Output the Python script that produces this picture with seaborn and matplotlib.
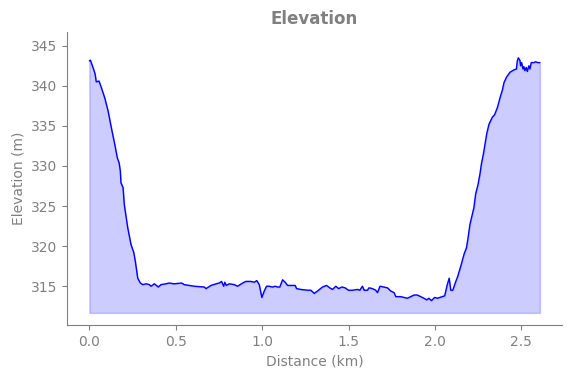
import matplotlib
matplotlib.use("Agg")
import matplotlib.pyplot as plt
import seaborn as sns
import pandas as pd

## perfil de elevação

distance_km = [
    0.000, 0.006, 0.021, 0.033, 0.040, 0.056, 0.069, 0.089, 0.108, 0.127,
    0.147, 0.162, 0.172, 0.179, 0.183, 0.195, 0.202, 0.222, 0.241, 0.257,
    0.266, 0.280, 0.295, 0.309, 0.330, 0.347, 0.357, 0.376, 0.399, 0.414,
    0.443, 0.462, 0.491, 0.534, 0.549, 0.578, 0.607, 0.665, 0.675, 0.704,
    0.733, 0.751, 0.765, 0.777, 0.784, 0.792, 0.809, 0.838, 0.858, 0.887,
    0.906, 0.935, 0.954, 0.969, 0.983, 0.992, 0.998, 1.012, 1.025, 1.040,
    1.060, 1.075, 1.089, 1.102, 1.118, 1.133, 1.147, 1.191, 1.199, 1.224,
    1.262, 1.282, 1.301, 1.320, 1.349, 1.372, 1.391, 1.407, 1.426, 1.442,
    1.461, 1.480, 1.499, 1.523, 1.551, 1.565, 1.580, 1.590, 1.599, 1.609,
    1.618, 1.638, 1.657, 1.667, 1.682, 1.705, 1.725, 1.744, 1.763, 1.773,
    1.802, 1.821, 1.840, 1.860, 1.879, 1.898, 1.917, 1.936, 1.952, 1.965,
    1.979, 1.998, 2.014, 2.043, 2.056, 2.071, 2.082, 2.091, 2.103, 2.117,
    2.131, 2.149, 2.168, 2.182, 2.191, 2.202, 2.216, 2.225, 2.235, 2.249,
    2.260, 2.268, 2.280, 2.287, 2.299, 2.312, 2.332, 2.345, 2.361, 2.376,
    2.390, 2.399, 2.414, 2.434, 2.457, 2.471, 2.476, 2.482, 2.491, 2.495,
    2.501, 2.509, 2.514, 2.520, 2.528, 2.534, 2.543, 2.549, 2.557, 2.572,
    2.582, 2.595, 2.607,
]

elevation_m = [
    343.1, 343.2, 342.3, 341.5, 340.5, 340.6, 339.8, 338.5, 336.9, 334.8,
    332.7, 331.0, 330.4, 329.4, 327.9, 327.3, 325.2, 322.3, 320.2, 319.2,
    318.1, 316.0, 315.4, 315.2, 315.3, 315.2, 315.0, 315.3, 314.9, 315.2,
    315.3, 315.4, 315.3, 315.4, 315.2, 315.1, 315.0, 314.9, 314.7, 315.1,
    315.3, 315.4, 315.6, 315.0, 315.5, 315.1, 315.3, 315.2, 315.0, 315.4,
    315.6, 315.6, 315.5, 315.7, 315.2, 314.2, 313.6, 314.4, 315.0, 315.0,
    314.9, 315.0, 314.9, 314.9, 315.8, 315.5, 315.1, 315.1, 314.7, 314.6,
    314.5, 314.5, 314.1, 314.4, 314.9, 315.1, 314.8, 314.6, 315.0, 314.7,
    314.9, 314.8, 314.5, 314.5, 314.6, 314.5, 315.0, 314.5, 314.5, 314.5,
    314.8, 314.7, 314.5, 314.2, 315.0, 314.9, 314.8, 314.4, 314.2, 313.7,
    313.7, 313.6, 313.5, 313.7, 313.9, 313.9, 313.7, 313.5, 313.3, 313.5,
    313.2, 313.6, 313.5, 313.7, 313.8, 315.2, 316.0, 314.5, 314.5, 315.4,
    316.2, 317.5, 319.0, 319.8, 321.0, 322.7, 324.0, 324.8, 326.5, 327.7,
    329.0, 330.2, 331.5, 332.4, 334.0, 335.2, 336.1, 336.4, 337.3, 338.5,
    339.5, 340.4, 341.1, 341.7, 342.0, 342.1, 343.1, 343.5, 343.2, 342.5,
    342.9, 342.1, 342.4, 341.9, 342.3, 341.8, 342.5, 342.1, 342.9, 342.9,
    343.0, 342.9, 342.9,
]

fill_base_m = 311.67

df = pd.DataFrame({"distance_km": distance_km, "elevation_m": elevation_m})

# %%

sns.set_style("ticks")
plt.rcParams["axes.edgecolor"] = "gray"
plt.rcParams["xtick.color"] = "gray"
plt.rcParams["ytick.color"] = "gray"
plt.rcParams["axes.labelcolor"] = "gray"
plt.rcParams["text.color"] = "gray"

fig, ax = plt.subplots(figsize=(5.71, 3.78), dpi=100)
fig.subplots_adjust(left=0.117, right=0.985, bottom=0.14, top=0.915)

ax.fill_between(df["distance_km"], df["elevation_m"], fill_base_m,
                color="blue", alpha=0.2)

sns.lineplot(
    data=df,
    x="distance_km",
    y="elevation_m",
    color="blue",
    linewidth=1.0,
    estimator=None,
    ax=ax
)

ax.set_ylim(310.15, 346.7)
ax.set_xticks([0.0, 0.5, 1.0, 1.5, 2.0, 2.5])

ax.set_title("Elevation", fontweight="bold", fontsize=12, color="gray")
ax.set_xlabel("Distance (km)")
ax.set_ylabel("Elevation (m)")

sns.despine(ax=ax)

plt.savefig("out.png", dpi=100)
